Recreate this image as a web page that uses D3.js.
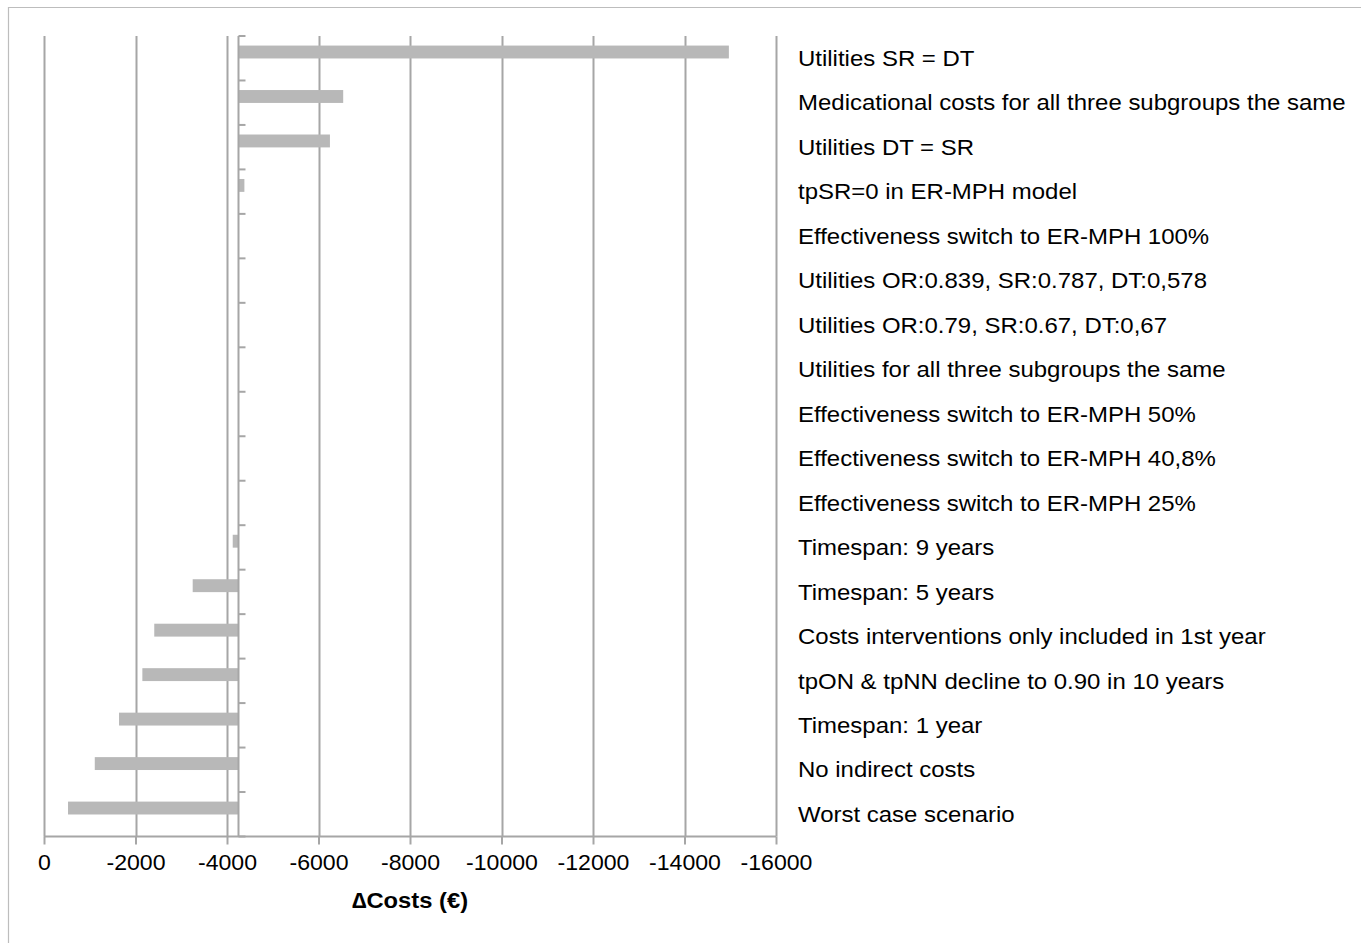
<!DOCTYPE html>
<html>
<head>
<meta charset="utf-8">
<script src="https://cdn.jsdelivr.net/npm/d3@7"></script>
<style>
  html, body { margin: 0; padding: 0; background: #fff; }
  svg { display: block; font-family: "Liberation Sans", Arial, sans-serif; }
</style>
</head>
<body>
<svg id="chart" width="1361" height="943"></svg>
<script>
const categories = [
  "Utilities SR = DT",
  "Medicational costs for all three subgroups the same",
  "Utilities DT = SR",
  "tpSR=0 in ER-MPH model",
  "Effectiveness switch to ER-MPH 100%",
  "Utilities OR:0.839, SR:0.787, DT:0,578",
  "Utilities OR:0.79, SR:0.67, DT:0,67",
  "Utilities for all three subgroups the same",
  "Effectiveness switch to ER-MPH 50%",
  "Effectiveness switch to ER-MPH 40,8%",
  "Effectiveness switch to ER-MPH 25%",
  "Timespan: 9 years",
  "Timespan: 5 years",
  "Costs interventions only included in 1st year",
  "tpON & tpNN decline to 0.90 in 10 years",
  "Timespan: 1 year",
  "No indirect costs",
  "Worst case scenario"
];
const baseCase = -4240;
const values = [
  -14970, -6540, -6250, -4380,
  -4240, -4240, -4240, -4240, -4240, -4240, -4240,
  -4125, -3250, -2410, -2150, -1640, -1110, -525
];
const tickValues = [0, -2000, -4000, -6000, -8000, -10000, -12000, -14000, -16000];
const axisTitle = "\u2206Costs (\u20AC)";

(function () {
const svg = d3.select("#chart");
const mLeft = 44, mRight = 776, mTop = 36, mBottom = 836.5;
const x = d3.scaleLinear().domain([0, -16000]).range([mLeft, mRight]);
const y = d3.scaleBand().domain(categories).range([mTop, mBottom]).padding(0);
const bw = y.bandwidth();

// outer frame
svg.append("path")
  .attr("d", `M8.5,943 V7.5 H1361`)
  .attr("fill", "none").attr("stroke", "#bdbdbd").attr("stroke-width", 1.2);

// gridlines
svg.append("g").selectAll("line").data(tickValues).join("line")
  .attr("x1", d => Math.round(x(d)) + 0.5).attr("x2", d => Math.round(x(d)) + 0.5)
  .attr("y1", mTop).attr("y2", mBottom)
  .attr("stroke", "#a6a6a6").attr("stroke-width", 2);

// bars
svg.append("g").selectAll("rect").data(values).join("rect")
  .attr("x", d => Math.min(x(d), x(baseCase)))
  .attr("width", d => Math.abs(x(d) - x(baseCase)))
  .attr("y", (d, i) => y(categories[i]) + bw * 0.215)
  .attr("height", bw * 0.29)
  .attr("fill", "#b8b8b8");

// baseline vertical axis with ticks to the right
const bx = Math.round(x(baseCase)) + 0.5;
svg.append("line")
  .attr("x1", bx).attr("x2", bx).attr("y1", mTop).attr("y2", mBottom)
  .attr("stroke", "#a6a6a6").attr("stroke-width", 2);
const bounds = categories.map(c => y(c)).concat([mBottom]);
svg.append("g").selectAll("line").data(bounds).join("line")
  .attr("x1", bx).attr("x2", bx + 7)
  .attr("y1", d => d).attr("y2", d => d)
  .attr("stroke", "#a6a6a6").attr("stroke-width", 2);

// x axis
const xAxis = d3.axisBottom(x).tickValues(tickValues).tickSize(8).tickPadding(10).tickFormat(d3.format("d"));
const gx = svg.append("g").attr("transform", `translate(0,${mBottom})`).call(xAxis);
gx.select(".domain").attr("stroke", "#a6a6a6").attr("stroke-width", 2)
  .attr("d", `M${mLeft},0H${mRight}`);
gx.selectAll(".tick line").attr("stroke", "#a6a6a6").attr("stroke-width", 2);
gx.selectAll(".tick text").attr("font-size", 22).attr("fill", "#000")
  .attr("font-family", "Liberation Sans, Arial, sans-serif")
  .attr("transform", "scale(1.05,1)")
  .text(d => d === 0 ? "0" : "-" + Math.abs(d));

// axis title
svg.append("g").attr("transform", `translate(${(mLeft + mRight) / 2},908) scale(1.08,1)`)
  .append("text")
  .attr("text-anchor", "middle")
  .attr("font-size", 22).attr("font-weight", "bold").attr("fill", "#000")
  .text(axisTitle);

// category labels on right
svg.append("g").attr("transform", "translate(798,0) scale(1.09,1)")
  .selectAll("text").data(categories).join("text")
  .attr("x", 0)
  .attr("y", d => y(d) + bw / 2)
  .attr("dy", "0.35em")
  .attr("font-size", 22).attr("fill", "#000")
  .text(d => d);
})();
</script>
</body>
</html>
